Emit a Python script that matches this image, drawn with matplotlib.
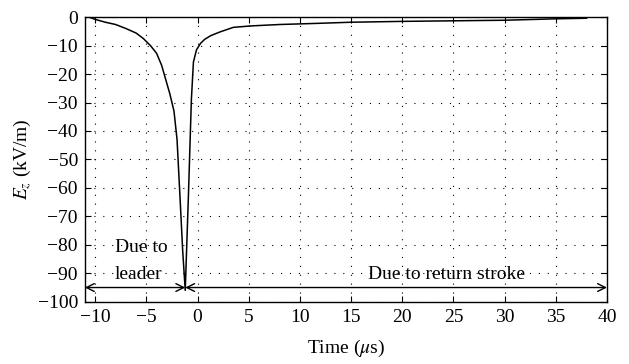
import matplotlib
matplotlib.use("Agg")
import matplotlib.pyplot as plt
import numpy as np

# field waveform
time_us = [-10.6, -10.0, -9.0, -8.0, -7.0, -6.0, -5.3, -4.6, -4.0, -3.5, -3.1, -2.7, -2.3, -2.0,
           -1.7, -1.45, -1.2, -0.9, -0.6, -0.4, -0.1, 0.3, 0.7, 1.3, 2.2, 3.5, 5.2, 8.0, 11.7,
           15.0, 20.0, 25.0, 30.0, 35.0, 38.0]
ez_kvm = [0.0, -0.8, -1.8, -2.6, -4.0, -5.6, -7.5, -10.0, -12.7, -17.0, -22.0, -27.0, -33.0, -43.0,
          -64.0, -82.0, -96.0, -64.0, -29.0, -15.8, -11.5, -9.2, -7.8, -6.5, -5.2, -3.6, -3.1, -2.6,
          -2.2, -1.8, -1.5, -1.3, -1.1, -0.6, -0.4]

x_ticks = [-10, -5, 0, 5, 10, 15, 20, 25, 30, 35, 40]
y_ticks = [0, -10, -20, -30, -40, -50, -60, -70, -80, -90, -100]

split_t = -1.2
arrow_y = -95
x_min, x_max = -11, 40

plt.rcParams["font.family"] = ["Liberation Serif", "DejaVu Serif"]
plt.rcParams["mathtext.fontset"] = "stix"
plt.rcParams["font.size"] = 14

fig = plt.figure(figsize=(6.29, 3.64), dpi=100)
ax = fig.add_axes([0.135, 0.171, 0.83, 0.782])

ax.plot(time_us, ez_kvm, color="black", lw=1.1)

ax.set_xlim(x_min, x_max)
ax.set_ylim(-100, 0)
ax.set_xticks(x_ticks)
ax.set_yticks(y_ticks)
ax.set_xticklabels([str(t).replace("-", "\u2212") for t in x_ticks])
ax.set_yticklabels([str(t).replace("-", "\u2212") for t in y_ticks])
ax.tick_params(direction="in", length=4, width=0.8, top=True, right=True, pad=5)
ax.grid(True, color="black", linestyle=(0, (1, 7)), linewidth=0.8)
for s in ax.spines.values():
    s.set_linewidth(1.0)

ax.set_xlabel(r"Time ($\mu$s)", labelpad=9)
ax.set_ylabel(r"$E_z$ (kV/m)", labelpad=3)

arrow_kw = dict(arrowstyle="<->", color="black", lw=1.0, mutation_scale=14, shrinkA=0, shrinkB=0)
ax.annotate("", xy=(x_min, arrow_y), xytext=(split_t, arrow_y), arrowprops=arrow_kw)
ax.annotate("", xy=(split_t, arrow_y), xytext=(x_max, arrow_y), arrowprops=arrow_kw)

ax.text(-8.1, -81, "Due to", ha="left", va="center")
ax.text(-8.1, -90.4, "leader", ha="left", va="center")
ax.text(24.3, -90.6, "Due to return stroke", ha="center", va="center")

fig.savefig("out.png", dpi=100)
